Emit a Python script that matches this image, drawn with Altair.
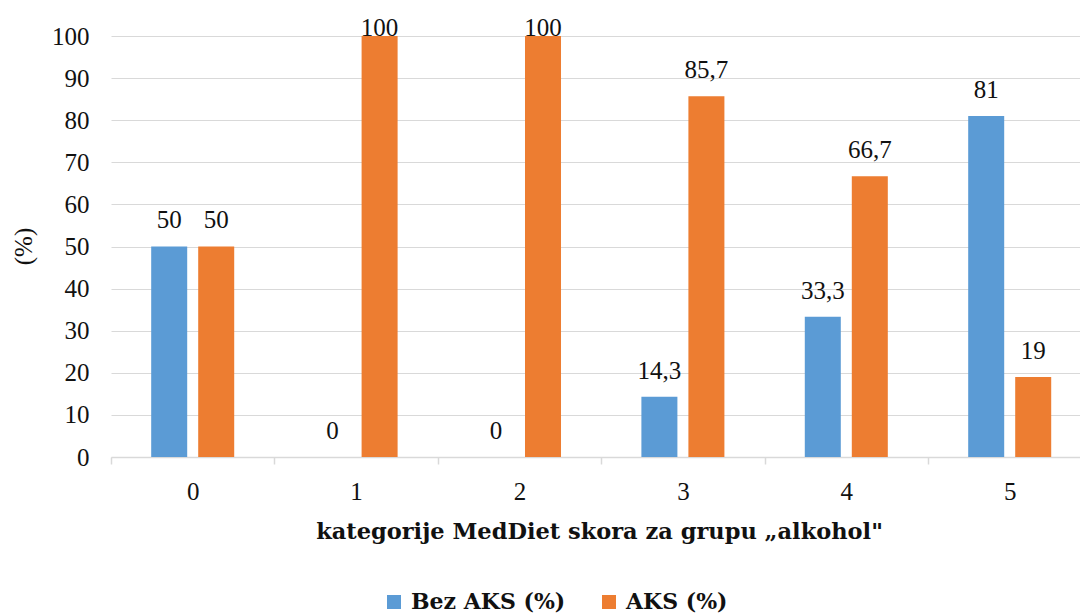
import altair as alt
import pandas as pd

# MedDiet score categories for the "alcohol" group
categories = ["0", "1", "2", "3", "4", "5"]
series = ["Bez AKS (%)", "AKS (%)"]
bez_aks = [50, 0, 0, 14.3, 33.3, 81]
aks = [50, 100, 100, 85.7, 66.7, 19]
colors = ["#5B9BD5", "#ED7D31"]
y_ticks = list(range(0, 101, 10))

rows = []
for cat, b, a in zip(categories, bez_aks, aks):
    rows.append({"kat": cat, "grupa": series[0], "v": b})
    rows.append({"kat": cat, "grupa": series[1], "v": a})
df = pd.DataFrame(rows)
# value labels use a decimal comma
df["oznaka"] = df["v"].map(lambda v: f"{v:g}".replace(".", ","))

FONT = "Liberation Serif, DejaVu Serif, serif"
FONT_BOLD = "DejaVu Serif"
TEXT = "#111111"
GRID = "#D9D9D9"

x_axis = alt.Axis(
    title="kategorije MedDiet skora za grupu \u201Ealkohol\"",
    titleFont=FONT_BOLD,
    titleFontSize=22.5,
    titleFontWeight="bold",
    titleColor=TEXT,
    titleBaseline="alphabetic",
    titleAlign="center",
    titleX=488,
    titleY=81,
    labelFont=FONT,
    labelFontSize=25,
    labelColor=TEXT,
    labelAngle=0,
    labelBaseline="alphabetic",
    labelPadding=35,
    tickBand="extent",
    tickSize=7,
    tickColor=GRID,
    tickWidth=1.5,
    domainColor=GRID,
    domainWidth=1.5,
    grid=False,
)
y_axis = alt.Axis(
    values=y_ticks,
    title="(%)",
    titleFont=FONT,
    titleFontSize=25,
    titleFontWeight="normal",
    titleColor=TEXT,
    titleAngle=-90,
    titleAlign="center",
    titleBaseline="middle",
    titleX=-88,
    titleY=210,
    labelFont=FONT,
    labelFontSize=25,
    labelColor=TEXT,
    labelPadding=22,
    ticks=False,
    domain=False,
    grid=True,
    gridColor=GRID,
    gridWidth=1,
)

x_enc = alt.X(
    "kat:N",
    sort=categories,
    scale=alt.Scale(range=[0, 980.4], paddingInner=0, paddingOuter=0),
    axis=x_axis,
)
xoff_enc = alt.XOffset(
    "grupa:N", sort=series, scale=alt.Scale(paddingInner=0.234, paddingOuter=0.855)
)
y_scale = alt.Scale(domain=[0, 100], nice=False)

bars = alt.Chart(df).mark_bar().encode(
    x=x_enc,
    xOffset=xoff_enc,
    y=alt.Y("v:Q", scale=y_scale, axis=y_axis),
    color=alt.Color(
        "grupa:N",
        sort=series,
        scale=alt.Scale(domain=series, range=colors),
        legend=alt.Legend(
            title=None,
            orient="none",
            direction="horizontal",
            legendX=272,
            legendY=555,
            padding=0,
            symbolType="square",
            symbolSize=196,
            symbolStrokeWidth=0,
            labelFont=FONT_BOLD,
            labelFontSize=22,
            labelFontWeight="bold",
            labelColor=TEXT,
            labelOffset=6,
            columnPadding=32,
        ),
    ),
)

labels = alt.Chart(df).transform_calculate(
    ly="min(datum.v + 4.3, 100)"
).mark_text(
    font=FONT, fontSize=25, color=TEXT, align="center", baseline="alphabetic"
).encode(
    x=x_enc,
    xOffset=xoff_enc,
    y=alt.Y("ly:Q", scale=y_scale, axis=y_axis),
    text="oznaka:N",
)

chart = alt.layer(bars, labels).properties(
    width=969,
    height=421,
    autosize="none",
    padding={"left": 111, "top": 36, "right": 0, "bottom": 157},
    background="white",
).configure_view(stroke=None)

chart.save("out.html", embed_options={"renderer": "svg", "actions": False})
